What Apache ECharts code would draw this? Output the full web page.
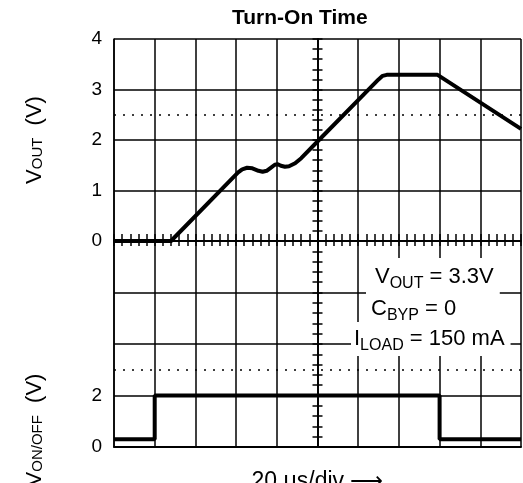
<!DOCTYPE html>
<html>
<head>
<meta charset="utf-8">
<script src="https://cdn.jsdelivr.net/npm/echarts@6/dist/echarts.min.js"></script>
<style>
  html, body { margin: 0; padding: 0; background: #fff; }
  #chart { width: 523px; height: 483px; }
</style>
</head>
<body>
<div id="chart"></div>
<script>
// time in µs, 20 µs per division
const voutTime  = [0, 28, 61, 63, 65.4, 68, 71, 73, 75, 77, 79, 80.5, 82, 84, 86, 89, 92, 100, 130, 132, 134, 159, 200];
const voutVolts = [0, 0, 1.36, 1.42, 1.45, 1.44, 1.39, 1.37, 1.39, 1.45, 1.51, 1.52, 1.49, 1.47, 1.48, 1.54, 1.64, 1.97, 3.20, 3.27, 3.29, 3.29, 2.22];
const vonTime   = [0, 20, 20, 160, 160, 200];
const vonVolts  = [0.3, 0.3, 2, 2, 0.3, 0.3];
const voutTickLabels = ['0', '1', '2', '3', '4'];
const vonTickLabels  = ['0', '2'];
const voutDotted = 2.5;
const vonDotted  = 3;

const FONT = '"Liberation Sans", Arial, sans-serif';
const black = '#000';
const gridLine = { color: black, width: 1.5 };

const myChart = echarts.init(document.getElementById('chart'));

// annotation text: subscripts dropped below the baseline
const noteRich = {
    m: { fontSize: 22, fontFamily: FONT, color: black },
    s: { fontSize: 16, fontFamily: FONT, color: black, padding: [14, 0, 0, 0] }
};
// axis names: small letters sitting on the baseline
const nameRich = {
    m: { fontSize: 22, fontFamily: FONT, color: black },
    s: { fontSize: 15, fontFamily: FONT, color: black, padding: [5, 0, 0, 0] }
};

// center cross-hair axis (ticks on both sides need two axes)
function centerY(gridIndex, max, interval, inside) {
    return {
        gridIndex: gridIndex, type: 'value', min: 0, max: max, interval: interval,
        position: 'left', offset: -203.5,
        axisLine: { show: true, lineStyle: gridLine },
        axisTick: { show: true, inside: inside, length: 5, lineStyle: gridLine },
        minorTick: { show: true, splitNumber: 5, length: 5, lineStyle: gridLine },
        axisLabel: { show: false },
        splitLine: { show: false }
    };
}

const option = {
    animation: false,
    backgroundColor: '#fff',
    title: {
        text: 'Turn-On Time',
        left: 232, top: 8, padding: 0,
        textStyle: { fontFamily: FONT, fontSize: 21, fontWeight: 'bold', color: black }
    },
    grid: [
        { left: 114, right: 2, top: 39, height: 202, outerBoundsMode: 'none' },
        { left: 114, right: 2, top: 241, height: 206, outerBoundsMode: 'none' }
    ],
    xAxis: [
        {
            gridIndex: 0, type: 'value', min: 0, max: 200, interval: 20, position: 'bottom',
            axisLine: { show: true, onZero: false, lineStyle: gridLine },
            axisTick: { show: true, inside: true, length: 7, lineStyle: gridLine },
            minorTick: { show: true, splitNumber: 5, length: 7, lineStyle: gridLine },
            axisLabel: { show: false },
            splitLine: { show: true, lineStyle: gridLine }
        },
        {
            gridIndex: 1, type: 'value', min: 0, max: 200, interval: 20, position: 'top',
            axisLine: { show: true, onZero: false, lineStyle: gridLine },
            axisTick: { show: true, inside: true, length: 5, lineStyle: gridLine },
            minorTick: { show: true, splitNumber: 5, length: 5, lineStyle: gridLine },
            axisLabel: { show: false },
            splitLine: { show: false }
        },
        {
            gridIndex: 1, type: 'value', min: 0, max: 200, interval: 20, position: 'bottom',
            axisLine: { show: true, onZero: false, lineStyle: { color: black, width: 2 } },
            axisTick: { show: false },
            axisLabel: { show: false },
            splitLine: { show: true, lineStyle: gridLine },
            name: '20 μs/div ⟶',
            nameLocation: 'middle',
            nameGap: 23,
            nameTextStyle: { fontFamily: FONT, fontSize: 23, color: black }
        }
    ],
    yAxis: [
        {
            gridIndex: 0, type: 'value', min: 0, max: 4, interval: 1,
            axisLine: { show: true, lineStyle: gridLine },
            axisTick: { show: false },
            axisLabel: {
                margin: 12, fontFamily: FONT, fontSize: 19, color: black,
                formatter: v => voutTickLabels.includes(String(v)) ? String(v) : ''
            },
            splitLine: { show: true, lineStyle: gridLine },
            name: '{m|V}{s|OUT}{m|  (V)}',
            nameLocation: 'middle',
            nameGap: 68,
            nameTextStyle: { rich: nameRich }
        },
        centerY(0, 4, 1, false),
        centerY(0, 4, 1, true),
        {
            gridIndex: 1, type: 'value', min: 0, max: 8, interval: 2,
            axisLine: { show: true, lineStyle: gridLine },
            axisTick: { show: false },
            axisLabel: {
                margin: 12, fontFamily: FONT, fontSize: 19, color: black,
                formatter: v => vonTickLabels.includes(String(v)) ? String(v) : ''
            },
            splitLine: { show: true, lineStyle: gridLine },
            name: '{m|V}{s|ON/OFF}{m|  (V)}',
            nameLocation: 'middle',
            nameGap: 68,
            nameTextStyle: { rich: nameRich, padding: [0, 172, 0, 0] }
        },
        centerY(1, 8, 2, false),
        centerY(1, 8, 2, true)
    ],
    series: [
        {
            type: 'line', xAxisIndex: 0, yAxisIndex: 0,
            data: voutTime.map((t, i) => [t, voutVolts[i]]),
            showSymbol: false, symbol: 'none',
            lineStyle: { color: black, width: 4, join: 'round' },
            markLine: {
                silent: true, symbol: 'none', label: { show: false },
                lineStyle: { color: black, width: 1.5, type: [2, 7] },
                data: [{ yAxis: voutDotted }]
            },
            z: 5
        },
        {
            type: 'line', xAxisIndex: 2, yAxisIndex: 3,
            data: vonTime.map((t, i) => [t, vonVolts[i]]),
            showSymbol: false, symbol: 'none',
            lineStyle: { color: black, width: 4 },
            markLine: {
                silent: true, symbol: 'none', label: { show: false },
                lineStyle: { color: black, width: 1.5, type: [2, 7] },
                data: [{ yAxis: vonDotted }]
            },
            z: 5
        }
    ],
    graphic: [
        {
            type: 'text', left: 372, top: 258, z: 100,
            style: { text: '{m|V}{s|OUT}{m| = 3.3V}', rich: noteRich, backgroundColor: '#fff', padding: [4, 6, 2, 3] }
        },
        {
            type: 'text', left: 366, top: 292, z: 100,
            style: { text: '{m|C}{s|BYP}{m| = 0}', rich: noteRich, backgroundColor: '#fff', padding: [2, 40, 2, 5] }
        },
        {
            type: 'text', left: 351, top: 322, z: 100,
            style: { text: '{m|I}{s|LOAD}{m| = 150 mA}', rich: noteRich, backgroundColor: '#fff', padding: [2, 6, 2, 3] }
        }
    ]
};

myChart.setOption(option);
</script>
</body>
</html>
